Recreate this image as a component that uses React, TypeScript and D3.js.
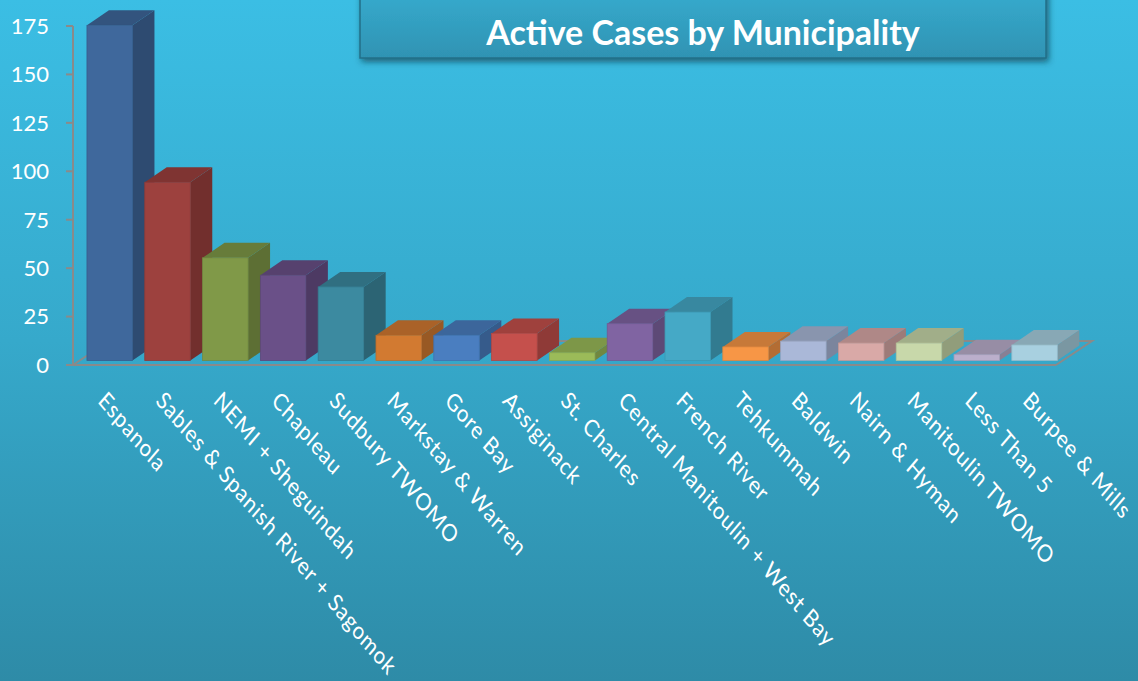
import React from "react";
import * as d3 from "d3";

const categories: string[] = [
  "Espanola",
  "Sables & Spanish River + Sagomok",
  "NEMI + Sheguindah",
  "Chapleau",
  "Sudbury TWOMO",
  "Markstay & Warren",
  "Gore Bay",
  "Assiginack",
  "St. Charles",
  "Central Manitoulin + West Bay",
  "French River",
  "Tehkummah",
  "Baldwin",
  "Nairn & Hyman",
  "Manitoulin TWOMO",
  "Less Than 5",
  "Burpee & Mills",
];

const activeCases: number[] = [173, 92, 53, 44, 38, 13, 13, 14, 4, 19, 25, 7, 10, 9, 9, 3, 8];

const barColors: string[] = [
  "#3f689c", "#9d413e", "#809948", "#6a5088", "#3c8aa0", "#d27a31",
  "#4a7ec0", "#c5504c", "#9bbb59", "#8064a2", "#45a9c6", "#f79646",
  "#aab8d8", "#d9a9a7", "#c8d8aa", "#bbafcc", "#a8d0e0",
];

const yTicks: number[] = [0, 25, 50, 75, 100, 125, 150, 175];

const title = "Active Cases by Municipality";

const W = 1138;
const H = 681;
const FONT = "Lato, 'Open Sans', sans-serif";

export default function App() {
  const yAxis = d3.scaleLinear().domain([0, 175]).range([365, 26]);
  const x = d3
    .scaleBand<string>()
    .domain(categories)
    .range([75.4, 1068.9])
    .paddingInner(0.213)
    .paddingOuter(0.2);
  const bw = x.bandwidth();
  const dX = 22;
  const dY = -15;
  const lift = 4.5;
  const baseY = yAxis(0) - lift;

  const floorFrontL = [73, 365];
  const floorFrontR = [1056, 365];
  const fdx = 36;
  const fdy = -24;

  return (
    <svg
      width={W}
      height={H}
      style={{ position: "absolute", left: 0, top: 0, display: "block" }}
      xmlns="http://www.w3.org/2000/svg"
    >
      <defs>
        <linearGradient id="bg" x1="0" y1="0" x2="0" y2="1">
          <stop offset="0" stopColor="#3bbee4" />
          <stop offset="0.5" stopColor="#36a9cb" />
          <stop offset="1" stopColor="#2e8ba7" />
        </linearGradient>
        <linearGradient id="tbox" x1="0" y1="0" x2="0" y2="1">
          <stop offset="0" stopColor="#3ab6da" />
          <stop offset="1" stopColor="#2f93b3" />
        </linearGradient>
        <filter id="shadow" x="-10%" y="-50%" width="120%" height="200%">
          <feDropShadow dx="2" dy="3" stdDeviation="3" floodColor="#0b3a4a" floodOpacity="0.7" />
        </filter>
      </defs>
      <rect x={0} y={0} width={W} height={H} fill="url(#bg)" />

      {/* title box */}
      <rect
        x={360}
        y={-40}
        width={686}
        height={98}
        fill="url(#tbox)"
        stroke="#236f88"
        strokeWidth={1.5}
        filter="url(#shadow)"
      />
      <text
        x={703}
        y={45}
        textAnchor="middle"
        fill="#ffffff"
        fontFamily={FONT}
        fontWeight={700}
        fontSize={34}
      >
        {title}
      </text>

      {/* floor back and left edges */}
      <path
        d={`M${floorFrontL[0]},${floorFrontL[1]} L${floorFrontL[0] + fdx},${floorFrontL[1] + fdy} L${floorFrontR[0] + fdx},${floorFrontR[1] + fdy} L${floorFrontR[0]},${floorFrontR[1]}`}
        fill="none"
        stroke="#8a8a8a"
        strokeWidth={2}
      />
      <line x1={floorFrontL[0]} y1={365} x2={floorFrontR[0]} y2={365} stroke="#8a8a8a" strokeWidth={2} />

      {/* y axis */}
      <line x1={73} y1={yAxis(175)} x2={73} y2={yAxis(0)} stroke="#8a8a8a" strokeWidth={2} />
      {yTicks.map((t) => (
        <g key={t}>
          <line x1={66} x2={73} y1={yAxis(t)} y2={yAxis(t)} stroke="#8a8a8a" strokeWidth={2} />
          <text
            x={49}
            y={yAxis(t)}
            dy="0.36em"
            textAnchor="end"
            fill="#ffffff"
            fontFamily={FONT}
            fontSize={22}
          >
            {t}
          </text>
        </g>
      ))}

      {/* bars */}
      {categories.map((c, i) => {
        const x0 = x(c) as number;
        const yTop = yAxis(activeCases[i]) - lift;
        const col = d3.color(barColors[i]) as d3.RGBColor;
        const side = col.darker(0.9).formatHex();
        const top = col.darker(0.6).formatHex();
        const edge = col.darker(0.3).formatHex();
        return (
          <g key={c}>
            <path
              d={`M${x0 + bw},${yTop} L${x0 + bw + dX},${yTop + dY} L${x0 + bw + dX},${baseY + dY} L${x0 + bw},${baseY} Z`}
              fill={side}
            />
            <path
              d={`M${x0},${yTop} L${x0 + dX},${yTop + dY} L${x0 + bw + dX},${yTop + dY} L${x0 + bw},${yTop} Z`}
              fill={top}
            />
            <rect x={x0} y={yTop} width={bw} height={baseY - yTop} fill={barColors[i]} stroke={edge} strokeWidth={0.8} />
          </g>
        );
      })}

      {/* category labels */}
      {categories.map((c) => {
        const lx = (x(c) as number) + 10;
        const ly = 402;
        return (
          <text
            key={c}
            transform={`translate(${lx},${ly}) scale(0.85,1) rotate(45)`}
            fill="#ffffff"
            fontFamily={FONT}
            fontSize={24}
            letterSpacing={0.9}
          >
            {c}
          </text>
        );
      })}
    </svg>
  );
}
